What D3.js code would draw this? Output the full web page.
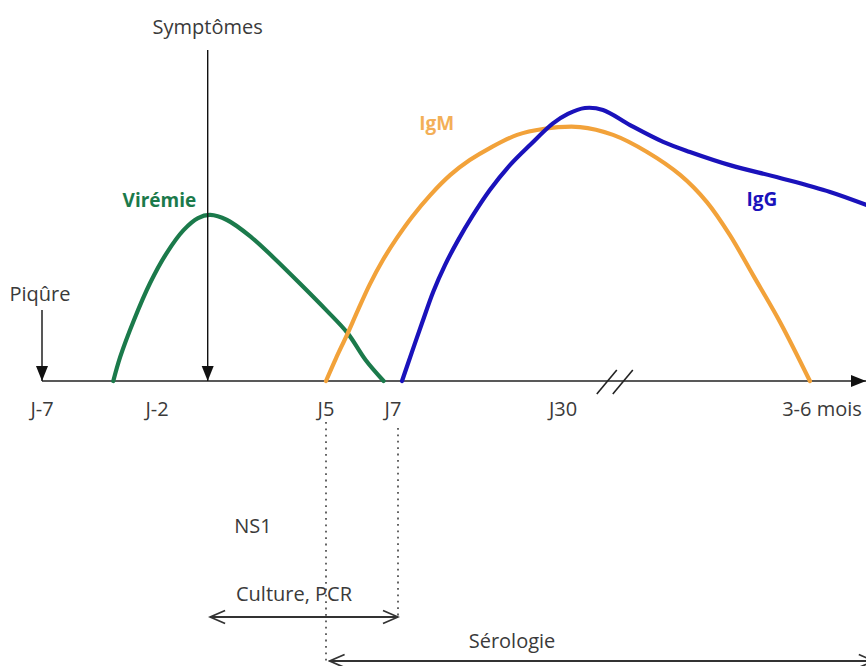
<!DOCTYPE html>
<html>
<head>
<meta charset="utf-8">
<script src="https://cdn.jsdelivr.net/npm/d3@7"></script>
<style>
  body { margin: 0; background: #fff; }
  svg { display: block; }
  text { font-family: "Open Sans", "Noto Sans", sans-serif; fill: #3a3a3a; }
</style>
</head>
<body>
<svg id="svg"></svg>
<script>
'use strict';

// ================================= data ======================================
// days relative to onset of symptoms (axis is broken after J30)
var tickLabels = ["J-7", "J-2", "J5", "J7", "J30", "3-6 mois"];
var tickDays = [-7, -2, 5, 7, 30, 120];

var viremiaDays = [-3.9, -3.6, -3.0, -2.3, -1.6, -0.9, -0.3, 0.2, 0.9, 1.9, 2.8, 3.9, 5.0, 5.6, 6.1, 6.6];
var viremiaLevels = [0, 8.6, 21.8, 35.0, 45.7, 53.9, 58.2, 59.3, 57.5, 51.4, 44.3, 35.0, 25.4, 17.1, 7.5, 0];

var igmDays = [5.0, 5.28, 5.58, 5.89, 6.22, 6.58, 6.97, 8.95, 11.5, 14.3, 17.0, 19.8, 23.6, 27.2, 35.9, 47.4, 59.2, 70.7, 80.0, 88.0, 96.0, 105.4, 115.8];
var igmLevels = [0, 8.2, 16.4, 25.4, 34.6, 43.2, 51.1, 58.6, 66.4, 73.6, 78.9, 83.2, 87.9, 90.0, 90.7, 87.9, 81.8, 73.6, 63.9, 52.1, 37.9, 21.1, 0];

var iggDays = [7.56, 8.95, 10.35, 11.9, 13.55, 15.4, 17.3, 19.8, 22.6, 25.4, 28.6, 31.7, 37.6, 43.9, 53.3, 64.8, 74.1, 88.0, 105.4, 122.8, 135.3];
var iggLevels = [0, 10.4, 20.7, 31.8, 41.4, 50.4, 58.6, 68.2, 77.1, 84.3, 92.0, 95.4, 97.5, 96.8, 91.4, 85.4, 81.8, 77.1, 72.5, 67.5, 62.9];

var seriesNames = ["Virémie", "IgM", "IgG"];
var labelDays = [-1.9, 12.4, 99.1];
var labelLevels = [62, 89.6, 62.5];

var eventNames = ["Piqûre", "Symptômes"];
var eventDays = [-7, 0.1];

var testNames = ["NS1", "Culture, PCR", "Sérologie"];
var testFrom = [null, 0.2, 5.1];
var testTo = [null, 7, 138];

var breakDay = 48;

// ================================= setup ======================================
var width = 866;
var height = 666;
var colors = ["#1b7a4b", "#f2a23a", "#1a12bb"];

var svg = d3.select("#svg")
    .attr("width", width)
    .attr("height", height);

// piecewise scale, the drawing is not to scale
var x = d3.scaleLinear()
    .domain(tickDays)
    .range([42, 157, 326, 398, 563, 822]);

var y = d3.scaleLinear()
    .domain([0, 100])
    .range([381, 101]);

var defs = svg.append("defs");

defs.append("marker")
    .attr("id", "head")
    .attr("markerUnits", "userSpaceOnUse")
    .attr("viewBox", "0 -7 16 14")
    .attr("refX", 15)
    .attr("refY", 0)
    .attr("markerWidth", 16)
    .attr("markerHeight", 14)
    .attr("orient", "auto")
    .append("path")
    .attr("d", "M0,-6L15,0L0,6Z")
    .attr("fill", "#111");

defs.append("marker")
    .attr("id", "open")
    .attr("markerUnits", "userSpaceOnUse")
    .attr("viewBox", "-1 -8 19 16")
    .attr("refX", 16)
    .attr("refY", 0)
    .attr("markerWidth", 19)
    .attr("markerHeight", 16)
    .attr("orient", "auto-start-reverse")
    .append("path")
    .attr("d", "M1,-6.5L16,0L1,6.5")
    .attr("fill", "none")
    .attr("stroke", "#333")
    .attr("stroke-width", 1.8);

// ================================= axis ======================================
svg.append("line")
    .attr("x1", x(-7))
    .attr("x2", width)
    .attr("y1", y(0))
    .attr("y2", y(0))
    .attr("stroke", "#222")
    .attr("stroke-width", 1.6)
    .attr("marker-end", "url(#head)");

svg.selectAll(".brk")
    .data([-8, 8])
    .join("line")
    .attr("class", "brk")
    .attr("x1", d => x(breakDay) + d - 10)
    .attr("x2", d => x(breakDay) + d + 10)
    .attr("y1", y(0) + 13)
    .attr("y2", y(0) - 11)
    .attr("stroke", "#222")
    .attr("stroke-width", 1.6);

svg.selectAll(".tick")
    .data(tickLabels)
    .join("text")
    .attr("class", "tick")
    .attr("x", (d, i) => x(tickDays[i]) - (d == "J7" ? 5 : 0))
    .attr("y", 416)
    .attr("text-anchor", "middle")
    .attr("font-size", 20)
    .text(d => d);

// ================================= curves ======================================
var line = d3.line()
    .x(d => x(d[0]))
    .y(d => y(d[1]))
    .curve(d3.curveCatmullRom.alpha(0.5));

var series = [
    d3.zip(viremiaDays, viremiaLevels),
    d3.zip(igmDays, igmLevels),
    d3.zip(iggDays, iggLevels)
];

svg.append("g")
    .selectAll("path")
    .data(series)
    .join("path")
    .attr("d", line)
    .attr("fill", "none")
    .attr("stroke", (d, i) => colors[i])
    .attr("stroke-width", 4.2)
    .attr("stroke-linecap", "round");

svg.selectAll(".slabel")
    .data(seriesNames)
    .join("text")
    .attr("class", "slabel")
    .attr("x", (d, i) => x(labelDays[i]))
    .attr("y", (d, i) => y(labelLevels[i]))
    .attr("text-anchor", "middle")
    .attr("font-size", 19)
    .attr("font-weight", "bold")
    .style("fill", (d, i) => colors[i])
    .style("opacity", (d, i) => i == 1 ? 0.85 : 1)
    .text(d => d);

// ================================= events ======================================
var eventTop = [310, 50];
var eventText = [301, 34];

svg.selectAll(".evline")
    .data(eventNames)
    .join("line")
    .attr("class", "evline")
    .attr("x1", (d, i) => x(eventDays[i]))
    .attr("x2", (d, i) => x(eventDays[i]))
    .attr("y1", (d, i) => eventTop[i])
    .attr("y2", y(0))
    .attr("stroke", "#111")
    .attr("stroke-width", 1.4)
    .attr("marker-end", "url(#head)");

svg.selectAll(".evtext")
    .data(eventNames)
    .join("text")
    .attr("class", "evtext")
    .attr("x", (d, i) => x(eventDays[i]) - (i == 0 ? 2 : 0))
    .attr("y", (d, i) => eventText[i])
    .attr("text-anchor", "middle")
    .attr("font-size", 20)
    .text(d => d);

// ================================= tests ======================================
// dotted guides from J5 and J7
var guides = [[5, 422, 662], [7, 428, 617]];
svg.selectAll(".guide")
    .data(guides)
    .join("line")
    .attr("class", "guide")
    .attr("x1", d => x(d[0]))
    .attr("x2", d => x(d[0]))
    .attr("y1", d => d[1])
    .attr("y2", d => d[2])
    .attr("stroke", "#555")
    .attr("stroke-width", 1.8)
    .attr("stroke-dasharray", "1.8,4.6");

var testY = [null, 617, 661];
var textY = [533, 601, 648];
var textX = [253, 294, 512];

svg.selectAll(".test")
    .data(testNames.filter((d, i) => testFrom[i] != null))
    .join("line")
    .attr("class", "test")
    .attr("x1", d => x(testFrom[testNames.indexOf(d)]))
    .attr("x2", d => x(testTo[testNames.indexOf(d)]))
    .attr("y1", d => testY[testNames.indexOf(d)])
    .attr("y2", d => testY[testNames.indexOf(d)])
    .attr("stroke", "#333")
    .attr("stroke-width", 1.8)
    .attr("marker-start", "url(#open)")
    .attr("marker-end", "url(#open)");

svg.selectAll(".ttext")
    .data(testNames)
    .join("text")
    .attr("class", "ttext")
    .attr("x", (d, i) => textX[i])
    .attr("y", (d, i) => textY[i])
    .attr("text-anchor", "middle")
    .attr("font-size", 20)
    .text(d => d);
</script>
</body>
</html>
